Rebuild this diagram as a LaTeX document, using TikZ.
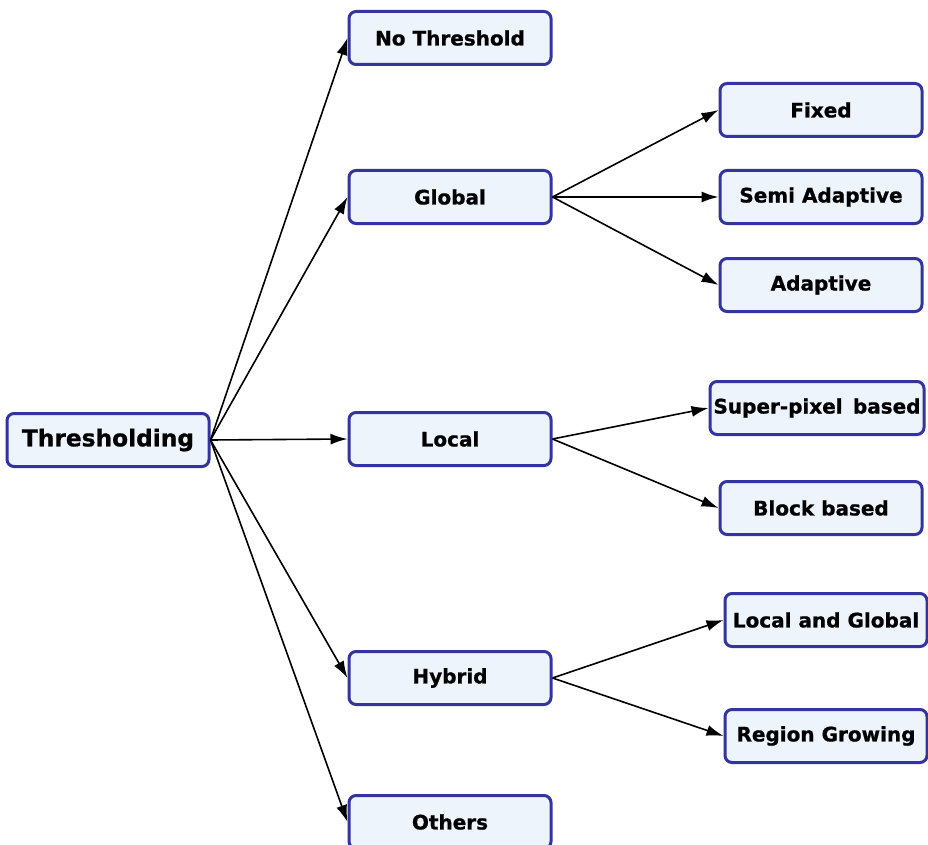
\documentclass[tikz,border=0pt]{standalone}
\usepackage{fontspec}
\setmainfont{DejaVu Sans}
\newfontfamily\heavy[FakeBold=0.9]{DejaVu Sans Bold}
\usetikzlibrary{arrows.meta}
\definecolor{boxfill}{HTML}{EEF4FC}
\definecolor{boxdraw}{HTML}{3434A0}
\begin{document}
\begin{tikzpicture}[x=1pt,y=-1pt,
  box/.style={draw=boxdraw, fill=boxfill, line width=3pt, rounded corners=7pt,
    minimum height=53pt, inner sep=0pt, font=\heavy\fontsize{20}{22}\selectfont, text=black},
  arr/.style={-{Latex[length=17pt,width=11pt]}, line width=1.6pt, black}]
\useasboundingbox (0,0) rectangle (928,845);
\node[box, minimum width=202pt, font=\heavy\fontsize{23.3}{26}\selectfont] (root) at (108,440) {Thresholding};
\node[box, minimum width=202pt] (nt) at (450,38) {No Threshold};
\node[box, minimum width=202pt] (gl) at (450,197) {Global};
\node[box, minimum width=202pt] (lo) at (450,439) {Local};
\node[box, minimum width=202pt] (hy) at (450,678) {Hybrid};
\node[box, minimum width=202pt] (ot) at (450,822) {Others};
\node[box, minimum width=202pt] (fx) at (821,110) {Fixed};
\node[box, minimum width=202pt] (sa) at (821,197) {Semi Adaptive};
\node[box, minimum width=202pt] (ad) at (821,285) {Adaptive};
\node[box, minimum width=214pt] (sp) at (817,408) {Super-pixel\, based};
\node[box, minimum width=202pt] (bb) at (821,508) {Block based};
\node[box, minimum width=202pt] (lg) at (826,620) {Local and Global};
\node[box, minimum width=202pt] (rg) at (826,736) {Region Growing};
\foreach \t in {nt,gl,lo,hy,ot} \draw[arr] (root.east) -- (\t.west);
\foreach \t in {fx,sa,ad} \draw[arr] (gl.east) -- (\t.west);
\foreach \t in {sp,bb} \draw[arr] (lo.east) -- (\t.west);
\foreach \t in {lg,rg} \draw[arr] (hy.east) -- (\t.west);
\end{tikzpicture}
\end{document}
